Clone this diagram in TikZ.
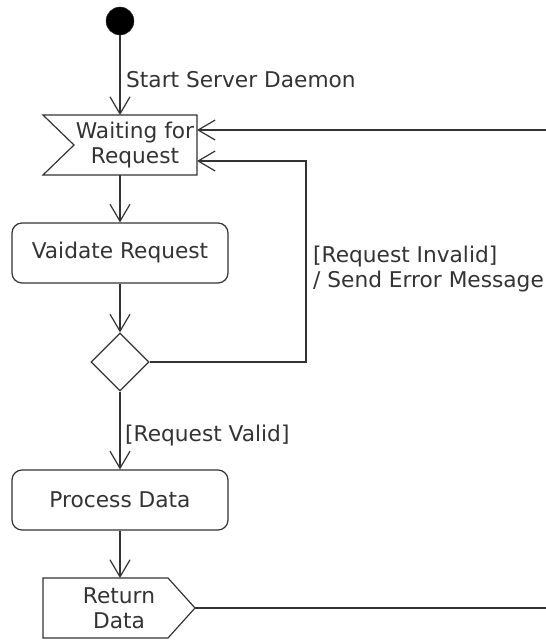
\documentclass[tikz,border=0pt]{standalone}
\usepackage{fontspec}
\setmainfont{DejaVu Sans}
\usetikzlibrary{arrows.meta,shapes.geometric}

\definecolor{ink}{HTML}{333333}

\tikzset{
  flow/.style={draw=ink, line width=1.2pt},
  link/.style={flow, -{Straight Barb[length=17pt,width=20pt]}},
  txt/.style={text=ink, font=\fontsize{21.7}{25}\selectfont, inner sep=0pt},
  action/.style={flow, txt, rounded corners=10pt, minimum width=216pt, minimum height=60pt},
  frame/.style={txt, minimum width=154pt, minimum height=60pt, outer sep=0pt},
  choice/.style={flow, diamond, aspect=1, minimum width=58pt, minimum height=58pt, inner sep=0pt},
  startdot/.style={circle, fill=black, draw=ink, minimum size=28pt, inner sep=0pt},
  guard/.style={txt, align=left}
}

\begin{document}
\begin{tikzpicture}[x=1pt, y=-1pt]
  \useasboundingbox (0,0) rectangle (546,641);

  % initial node
  \node[startdot] (start) at (120,21) {};

  % accept-event "Waiting for Request"
  \node[frame] (wait) at (120,145) {};
  \draw[flow, line join=miter] (wait.north west) -- (wait.north east) -- (wait.south east)
        -- (wait.south west) -- ([xshift=31pt]wait.west) -- cycle;
  \node[txt, align=center] (waittext) at (135,145) {Waiting for\\Request};

  % actions
  \node[action] (validate) at (120,253) {Vaidate Request};
  \node[choice] (check) at (120,362) {};
  \node[action] (process) at (120,500) {Process Data};

  % send-signal "Return Data"
  \node[frame, minimum width=152pt, align=center] (ret) at (119,608) {Return\\Data};
  \draw[flow, line join=miter] (ret.north west) -- ([xshift=-27pt]ret.north east) -- (ret.east)
        -- ([xshift=-27pt]ret.south east) -- (ret.south west) -- cycle;

  % off-page ends
  \coordinate (incoming) at (546,130);
  \coordinate (outgoing) at (546,608);
  \coordinate (loop) at (306,161);

  % connectors
  \draw[link] (start) -- (wait.north);
  \draw[link] (incoming) -- (wait.east |- incoming);
  \draw[link] (wait.south) -- (validate.north);
  \draw[link] (validate.south) -- (check.north);
  \draw[link] (check.east) -| (loop) -- (wait.east |- loop);
  \draw[link] (check.south) -- (process.north);
  \draw[link] (process.south) -- (ret.north -| process.south);
  \draw[flow] (ret.east) -- (outgoing);

  % labels
  \node[txt, anchor=base west] (lstart) at (126,87) {Start Server Daemon};
  \node[guard, anchor=west] (linvalid) at (313,269) {[Request Invalid]\\/ Send Error Message};
  \node[txt, anchor=base west] (lvalid) at (125,441.5) {[Request Valid]};
\end{tikzpicture}
\end{document}
